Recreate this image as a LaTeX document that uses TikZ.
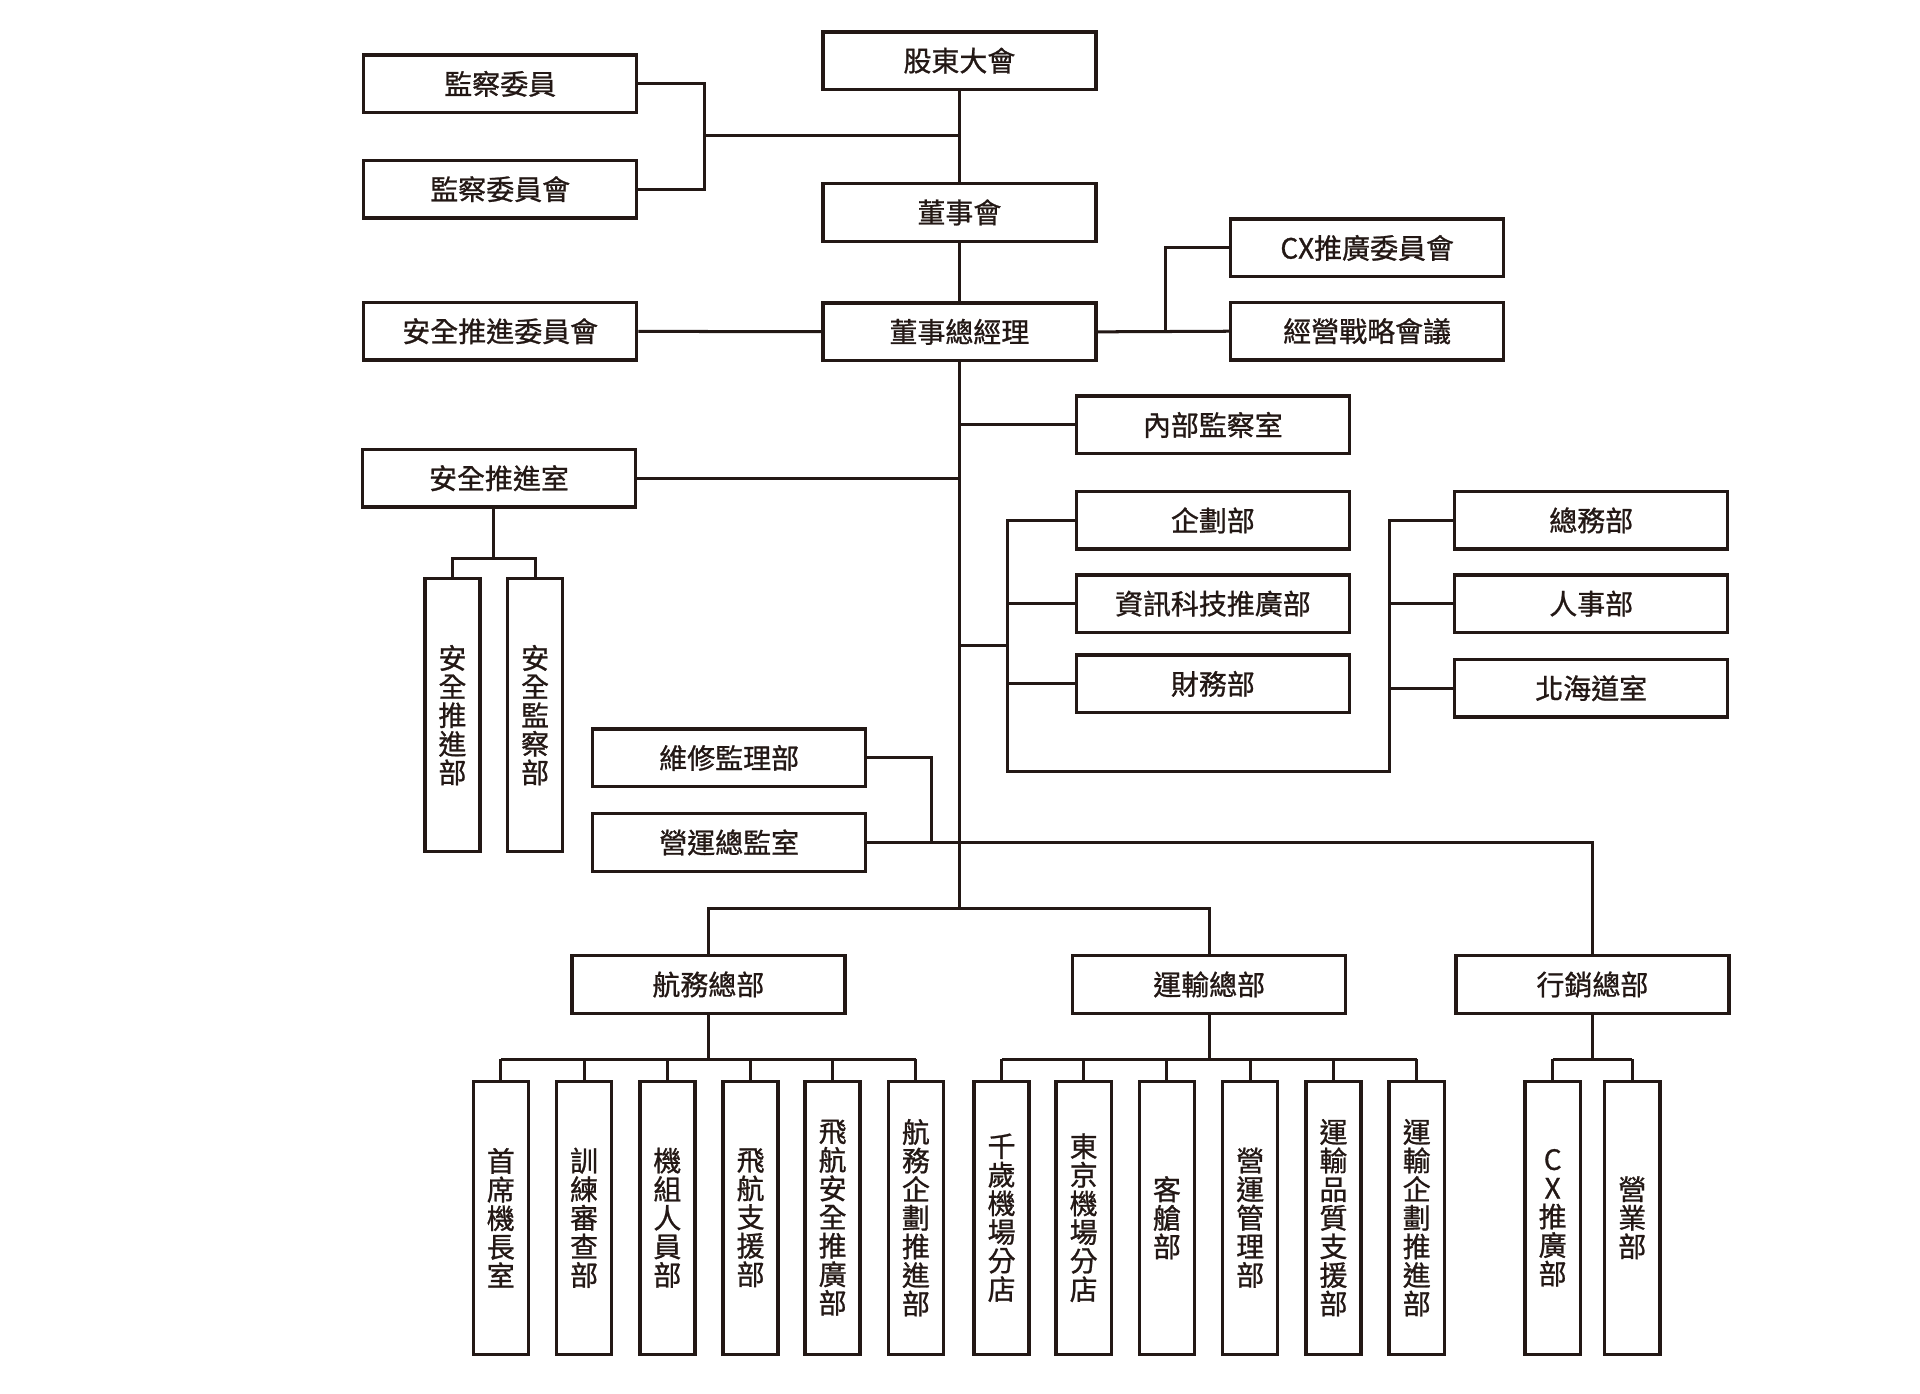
\documentclass[tikz,border=0pt]{standalone}
\usepackage{fontspec}
\newfontfamily\cjk{Noto Sans CJK TC}[FakeBold=0.9]
\usetikzlibrary{positioning}
\definecolor{ink}{HTML}{231815}

\tikzset{
  hbox/.style={draw=ink, line width=1.6pt, minimum width=4.46cm, minimum height=0.94cm, inner sep=0pt},
  vbox/.style={draw=ink, line width=1.6pt, minimum width=0.9cm, minimum height=4.46cm, inner sep=0pt, align=center},
  link/.style={draw=ink, line width=1.4pt}
}

\begin{document}
\begin{tikzpicture}[x=0.02cm, y=-0.02cm, every node/.style={font=\cjk\fontsize{13}{13.3}\selectfont, text=ink}]
    \useasboundingbox (0,0) rectangle (1568,1138.4);

    % top level
    \node[hbox] (gm) at (783.5,49.5) {股東大會};
    \node[hbox] (kansa) at (408.5,68.5) {監察委員};
    \node[hbox] (kansakai) at (408.5,154.5) {監察委員會};
    \node[hbox] (board) at (783.5,173.5) {董事會};
    \node[hbox] (cxcom) at (1116.5,202.5) {CX推廣委員會};
    \node[hbox] (strat) at (1116.5,270.5) {經營戰略會議};
    \node[hbox] (pres) at (783.5,271) {董事總經理};
    \node[hbox] (safecom) at (408.5,270.5) {安全推進委員會};

    % staff
    \node[hbox] (audit) at (990.5,347) {內部監察室};
    \node[hbox] (safe) at (407.5,390.5) {安全推進室};
    \node[vbox] (safe1) at (369.5,584) {安\\全\\推\\進\\部};
    \node[vbox] (safe2) at (437,584) {安\\全\\監\\察\\部};
    \node[hbox] (plan) at (990.5,425) {企劃部};
    \node[hbox] (it) at (990.5,493) {資訊科技推廣部};
    \node[hbox] (fin) at (990.5,558.5) {財務部};
    \node[hbox] (ga) at (1299.5,425) {總務部};
    \node[hbox] (hr) at (1299.5,493) {人事部};
    \node[hbox] (hok) at (1299.5,562) {北海道室};
    \node[hbox] (maint) at (595.5,619) {維修監理部};
    \node[hbox] (ops) at (595.5,688) {營運總監室};

    % divisions
    \node[hbox] (flight) at (578.5,804) {航務總部};
    \node[hbox] (trans) at (987.5,804) {運輸總部};
    \node[hbox] (sales) at (1300.5,804) {行銷總部};

    \coordinate (fbus) at (578.5,865);
    \coordinate (tbus) at (987.5,865);
    \coordinate (sbus) at (1300.5,865);

    \foreach \px/\name/\txt in {409/cap/{首\\席\\機\\長\\室}, 477/train/{訓\\練\\審\\查\\部}, 545/crew/{機\\組\\人\\員\\部},
        613/fsup/{飛\\航\\支\\援\\部}, 680/fsafe/{飛\\航\\安\\全\\推\\廣\\部}, 748/fplan/{航\\務\\企\\劃\\推\\進\\部}} {
        \node[vbox] (\name) at (\px,994.5) {\txt};
        \draw[link] (\name.north) -- (\name.north |- fbus);
    }
    \foreach \px/\name/\txt in {818/cts/{千\\歲\\機\\場\\分\\店}, 885/hnd/{東\\京\\機\\場\\分\\店}, 953/cabin/{客\\艙\\部},
        1021/opsm/{營\\運\\管\\理\\部}, 1089/qual/{運\\輸\\品\\質\\支\\援\\部}, 1157/tplan/{運\\輸\\企\\劃\\推\\進\\部}} {
        \node[vbox] (\name) at (\px,994.5) {\txt};
        \draw[link] (\name.north) -- (\name.north |- tbus);
    }
    \foreach \px/\name/\txt in {1268/cx/{C\\X\\推\\廣\\部}, 1333/biz/{營\\業\\部}} {
        \node[vbox] (\name) at (\px,994.5) {\txt};
        \draw[link] (\name.north) -- (\name.north |- sbus);
    }

    % connectors
    \coordinate (kj) at (575,111);
    \draw[link] (gm) -- (board);
    \draw[link] (board) -- (pres);
    \draw[link] (kansa.east) -| (kj) |- (kansakai.east);
    \draw[link] (kj) -- (kj -| gm);
    \draw[link] (safecom) -- (pres);
    \draw[link] (pres.east) -- (strat.west);
    \coordinate (cj) at (952,270.5);
    \draw[link] (cj) |- (cxcom.west);

    \coordinate (bus) at (783.5,742);
    \draw[link] (pres.south) -- (bus);
    \draw[link] (audit.west) -- (audit.west -| bus);
    \draw[link] (safe.east) -- (safe.east -| bus);

    \coordinate (sj) at (403,456);
    \draw[link] (sj |- safe.south) -- (sj);
    \draw[link] (safe1.north) |- (sj) -| (safe2.north);

    \coordinate (lj) at (823,527);
    \coordinate (lbot) at (823,630);
    \coordinate (rbot) at (1135,630);
    \draw[link] (lj -| bus) -- (lj);
    \draw[link] (plan.west) -| (lbot) -- (rbot) |- (ga.west);
    \draw[link] (it.west) -- (it.west -| lbot);
    \draw[link] (fin.west) -- (fin.west -| lbot);
    \draw[link] (hr.west) -- (hr.west -| rbot);
    \draw[link] (hok.west) -- (hok.west -| rbot);

    \coordinate (mj) at (761,688);
    \draw[link] (maint.east) -| (mj);
    \draw[link] (ops.east) -| (sales.north);

    \draw[link] (flight.north) |- (bus) -| (trans.north);
    \draw[link] (flight.south) -- (fbus);
    \draw[link] (trans.south) -- (tbus);
    \draw[link] (sales.south) -- (sbus);
    \draw[link] (cap.north |- fbus) -- (fplan.north |- fbus);
    \draw[link] (cts.north |- tbus) -- (tplan.north |- tbus);
    \draw[link] (cx.north |- sbus) -- (biz.north |- sbus);
\end{tikzpicture}
\end{document}
